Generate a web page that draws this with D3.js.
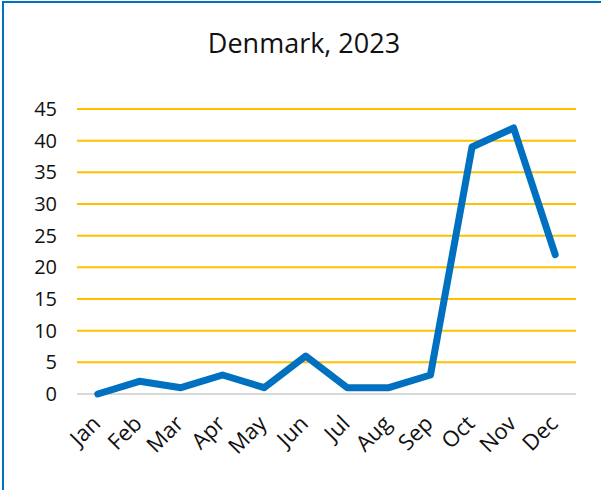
<!DOCTYPE html>
<html>
<head>
<meta charset="utf-8">
<script src="https://cdn.jsdelivr.net/npm/d3@7"></script>
<style>
  body { margin: 0; background: #fff; }
  text { font-family: "Open Sans", sans-serif; fill: #111; }
</style>
</head>
<body>
<div id="chart"></div>
<script>
var months = ["Jan", "Feb", "Mar", "Apr", "May", "Jun", "Jul", "Aug", "Sep", "Oct", "Nov", "Dec"];
var values = [0, 2, 1, 3, 1, 6, 1, 1, 3, 39, 42, 22];
var yTicks = [0, 5, 10, 15, 20, 25, 30, 35, 40, 45];

var width = 601, height = 490;
var plotLeft = 77, plotRight = 576, plotTop = 109, plotBottom = 394;

var svg = d3.select("#chart")
    .append("svg")
    .attr("width", width)
    .attr("height", height);

// outer frame
svg.append("rect")
    .attr("x", 3).attr("y", 2)
    .attr("width", width + 10).attr("height", height + 10)
    .attr("fill", "none")
    .attr("stroke", "#0070C0")
    .attr("stroke-width", 2);

svg.append("text")
    .attr("x", 304).attr("y", 53)
    .attr("text-anchor", "middle")
    .style("font-size", "27px")
    .text("Denmark, 2023");

var x = d3.scalePoint()
    .domain(months)
    .range([plotLeft, plotRight])
    .padding(0.5);

var y = d3.scaleLinear()
    .domain([0, 45])
    .range([plotBottom, plotTop]);

// gridlines
svg.append("g")
    .selectAll("line")
    .data(yTicks)
    .enter().append("line")
    .attr("x1", plotLeft).attr("x2", plotRight)
    .attr("y1", function(d) { return y(d); })
    .attr("y2", function(d) { return y(d); })
    .attr("stroke", function(d) { return d === 0 ? "#d9d9d9" : "#FFC000"; })
    .attr("stroke-width", 2);

// y labels
svg.append("g")
    .selectAll("text")
    .data(yTicks)
    .enter().append("text")
    .attr("x", 57)
    .attr("y", function(d) { return y(d); })
    .attr("dy", "0.35em")
    .attr("text-anchor", "end")
    .style("font-size", "20px")
    .text(function(d) { return d; });

// x labels
svg.append("g")
    .selectAll("text")
    .data(months)
    .enter().append("text")
    .attr("transform", function(d) { return "translate(" + (x(d) - 7) + "," + 414 + ") rotate(-45)"; })
    .attr("text-anchor", "end")
    .attr("dy", "0.7em")
    .style("font-size", "22px")
    .text(function(d) { return d; });

var line = d3.line()
    .x(function(d, i) { return x(months[i]); })
    .y(function(d) { return y(d); });

svg.append("path")
    .datum(values)
    .attr("d", line)
    .attr("fill", "none")
    .attr("stroke", "#0070C0")
    .attr("stroke-width", 7)
    .attr("stroke-linecap", "round")
    .attr("stroke-linejoin", "round");
</script>
</body>
</html>
